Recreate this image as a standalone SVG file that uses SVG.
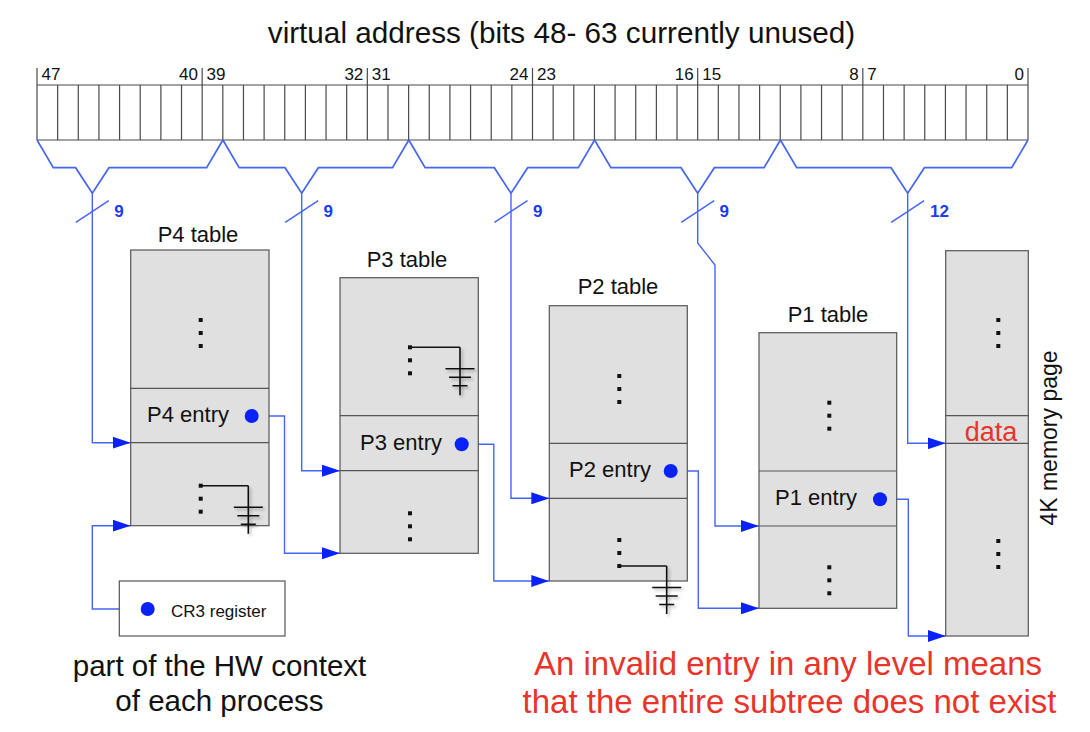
<svg xmlns="http://www.w3.org/2000/svg" xmlns:xlink="http://www.w3.org/1999/xlink" width="1090" height="732" viewBox="0 0 1090 732">
  <style>
    text { font-family: "Liberation Sans", Arial, sans-serif; fill: #111; }
    .title { font-size: 29.7px; text-anchor: middle; }
    .bitnum { font-size: 17px; }
    .bitnum.r { text-anchor: end; }
    .tbl { fill: #e0e0e0; stroke: #555; stroke-width: 1.2; }
    .row { fill: none; stroke: #555; stroke-width: 1.2; }
    .lbl { font-size: 22px; text-anchor: middle; }
    .cells { fill: none; stroke: #4a4a4a; stroke-width: 1.2; }
    .brace { fill: none; stroke: #4566f2; stroke-width: 1.7; stroke-linejoin: miter; }
    .wire { fill: none; stroke: #4566f2; stroke-width: 1.5; }
    .arr { fill: none; stroke: #4566f2; stroke-width: 1.4; marker-end: url(#head); }
    .width { font-size: 17px; font-weight: bold; fill: #1a3cf5; }
    .dot { fill: #0a22f5; }
    .gwire { fill: none; stroke: #111; stroke-width: 1.6; }
    .red { fill: #e8342a; }
    .note { font-size: 29.5px; text-anchor: middle; }
    .warn { font-size: 33px; text-anchor: middle; }
  </style>
  <defs>
    <marker id="head" markerUnits="userSpaceOnUse" markerWidth="18" markerHeight="12" refX="18" refY="6" orient="auto">
      <path d="M0,0 L18,6 L0,12 z" fill="#0a22f5"/>
    </marker>
    <g id="vdots" fill="#111">
      <rect x="-2" y="-2" width="4" height="4"/>
      <rect x="-2" y="11" width="4" height="4"/>
      <rect x="-2" y="24" width="4" height="4"/>
    </g>
    <filter id="soft" x="-50%" y="-50%" width="200%" height="200%">
      <feDropShadow dx="2" dy="2" stdDeviation="1.5" flood-color="#000" flood-opacity="0.3"/>
    </filter>
    <!-- null pointer: ground symbol hanging from the corner point -->
    <g id="gnd" filter="url(#soft)">
      <path d="M0,0 V48 M-14.5,21.5 H14.5 M-11,30 H11 M-7.5,38.5 H7.5" fill="none" stroke="#111" stroke-width="1.6"/>
    </g>
  </defs>

  <rect width="1090" height="732" fill="#fff"/>

  <!-- 48-bit virtual address register -->
  <g id="virtual-address">
    <text class="title" x="561.5" y="43">virtual address (bits 48- 63 currently unused)</text>
    <path class="cells" d="M37,85 H1028 M37,140 H1028
      M37,68 V140 M57.65,85 V140 M78.29,85 V140 M98.94,85 V140 M119.58,85 V140 M140.23,85 V140 M160.88,85 V140 M181.52,85 V140
      M202.17,68 V140 M222.81,85 V140 M243.46,85 V140 M264.1,85 V140 M284.75,85 V140 M305.4,85 V140 M326.04,85 V140 M346.69,85 V140
      M367.33,68 V140 M387.98,85 V140 M408.63,85 V140 M429.27,85 V140 M449.92,85 V140 M470.56,85 V140 M491.21,85 V140 M511.85,85 V140
      M532.5,68 V140 M553.15,85 V140 M573.79,85 V140 M594.44,85 V140 M615.08,85 V140 M635.73,85 V140 M656.38,85 V140 M677.02,85 V140
      M697.67,68 V140 M718.31,85 V140 M738.96,85 V140 M759.6,85 V140 M780.25,85 V140 M800.9,85 V140 M821.54,85 V140 M842.19,85 V140
      M862.83,68 V140 M883.48,85 V140 M904.13,85 V140 M924.77,85 V140 M945.42,85 V140 M966.06,85 V140 M986.71,85 V140 M1007.35,85 V140
      M1028,68 V140"/>
    <text class="bitnum" x="41.5" y="80">47</text>
    <text class="bitnum r" x="198" y="80">40</text>
    <text class="bitnum" x="206.5" y="80">39</text>
    <text class="bitnum r" x="363.3" y="80">32</text>
    <text class="bitnum" x="371.8" y="80">31</text>
    <text class="bitnum r" x="528.5" y="80">24</text>
    <text class="bitnum" x="537" y="80">23</text>
    <text class="bitnum r" x="693.7" y="80">16</text>
    <text class="bitnum" x="702.2" y="80">15</text>
    <text class="bitnum r" x="858.8" y="80">8</text>
    <text class="bitnum" x="867.3" y="80">7</text>
    <text class="bitnum r" x="1024" y="80">0</text>
  </g>

  <!-- bit-field braces, bus widths and index lines -->
  <g id="connectors">
    <path class="brace" d="M37,140 L53.3,167.7 H75.6 L92.3,193.3 L109,167.7 H206.6 L222.9,140"/>
    <path class="brace" d="M222.9,140 L239.2,167.7 H285 L301.7,193.3 L318.4,167.7 H392.5 L408.8,140"/>
    <path class="brace" d="M408.8,140 L425.1,167.7 H494.3 L511,193.3 L527.7,167.7 H578.3 L594.6,140"/>
    <path class="brace" d="M594.6,140 L610.9,167.7 H681 L697.7,193.3 L714.4,167.7 H764.1 L780.4,140"/>
    <path class="brace" d="M780.4,140 L796.7,167.7 H891 L907.7,193.3 L924.4,167.7 H1011.7 L1028,140"/>

    <path class="wire" d="M75.8,222.3 L108.8,200.7 M285.2,222.3 L318.2,200.7 M494.5,222.3 L527.5,200.7 M681.2,222.3 L714.2,200.7 M891.2,222.3 L924.2,200.7"/>
    <text class="width" x="114.3" y="217.3">9</text>
    <text class="width" x="323.5" y="217.3">9</text>
    <text class="width" x="533" y="217.3">9</text>
    <text class="width" x="719.5" y="217.3">9</text>
    <text class="width" x="930" y="217.3">12</text>

    <!-- table indices -->
    <path class="arr" d="M92.3,193.3 V442.7 H130.7"/>
    <path class="arr" d="M301.7,193.3 V470.7 H340"/>
    <path class="arr" d="M511,193.3 V498.3 H549.3"/>
    <path class="arr" d="M697.7,193.3 V243 L715,265 V526 H759"/>
    <path class="arr" d="M907.7,193.3 V443.3 H945.7"/>

    <!-- base pointers -->
    <path class="arr" d="M147.7,609 H92.3 V525.7 H130.7"/>
    <path class="arr" d="M251.7,416 H284.5 V553.3 H340"/>
    <path class="arr" d="M461.7,444.3 H493.8 V581 H549.3"/>
    <path class="arr" d="M670.7,471 H698.3 V608.3 H759"/>
    <path class="arr" d="M880,499.3 H908.3 V636 H945.7"/>
  </g>

  <!-- level 4 -->
  <g id="p4-table">
    <text class="lbl" x="198" y="242">P4 table</text>
    <rect class="tbl" x="130.7" y="250" width="138.3" height="275.7"/>
    <path class="row" d="M130.7,388.3 H269 M130.7,442.7 H269"/>
    <text class="lbl" x="188" y="422">P4 entry</text>
    <circle class="dot" cx="251.7" cy="416" r="7"/>
    <use href="#vdots" x="200.7" y="320"/>
    <use href="#vdots" x="200.7" y="485.7"/>
    <path class="gwire" d="M200.7,485.7 H248.3"/>
    <use href="#gnd" x="248.3" y="485.7"/>
  </g>

  <!-- level 3 -->
  <g id="p3-table">
    <text class="lbl" x="407" y="267">P3 table</text>
    <rect class="tbl" x="340" y="277.7" width="138.3" height="275.6"/>
    <path class="row" d="M340,415.7 H478.3 M340,470.7 H478.3"/>
    <text class="lbl" x="401" y="450">P3 entry</text>
    <circle class="dot" cx="461.7" cy="444.3" r="7"/>
    <use href="#vdots" x="410" y="347.3"/>
    <use href="#vdots" x="410" y="513.3"/>
    <path class="gwire" d="M410,347.3 H460"/>
    <use href="#gnd" x="460" y="347.3"/>
  </g>

  <!-- level 2 -->
  <g id="p2-table">
    <text class="lbl" x="618" y="294">P2 table</text>
    <rect class="tbl" x="549.3" y="305.7" width="138" height="275.3"/>
    <path class="row" d="M549.3,443.3 H687.3 M549.3,498.3 H687.3"/>
    <text class="lbl" x="610" y="477">P2 entry</text>
    <circle class="dot" cx="670.7" cy="471" r="7"/>
    <use href="#vdots" x="619.3" y="376"/>
    <use href="#vdots" x="619.3" y="540"/>
    <path class="gwire" d="M619.3,566 H666.7"/>
    <use href="#gnd" x="666.7" y="566"/>
  </g>

  <!-- level 1 -->
  <g id="p1-table">
    <text class="lbl" x="828" y="322">P1 table</text>
    <rect class="tbl" x="759" y="332.7" width="137.7" height="275.6"/>
    <path class="row" d="M759,471 H896.7 M759,526 H896.7"/>
    <text class="lbl" x="816" y="505">P1 entry</text>
    <circle class="dot" cx="880" cy="499.3" r="7"/>
    <use href="#vdots" x="829.3" y="402.7"/>
    <use href="#vdots" x="829.3" y="567.3"/>
  </g>

  <!-- physical page -->
  <g id="memory-page">
    <rect class="tbl" x="945.7" y="250.7" width="82.6" height="385.3"/>
    <path class="row" d="M945.7,415.7 H1028.3 M945.7,443.3 H1028.3"/>
    <text class="red" x="991" y="441" font-size="27" text-anchor="middle">data</text>
    <use href="#vdots" x="998.3" y="320"/>
    <use href="#vdots" x="998.3" y="541"/>
    <text transform="translate(1057,438) rotate(-90)" font-size="23" text-anchor="middle">4K memory page</text>
  </g>

  <!-- page-table base register -->
  <g id="cr3-register">
    <rect x="119.3" y="581" width="165.7" height="55" fill="#fff" stroke="#555" stroke-width="1.2"/>
    <circle class="dot" cx="147.7" cy="609" r="7"/>
    <text x="171" y="617" font-size="17">CR3 register</text>
  </g>

  <g id="notes">
    <text class="note" x="219.5" y="676">part of the HW context</text>
    <text class="note" x="219.5" y="711">of each process</text>
    <text class="warn red" x="788" y="675">An invalid entry in any level means</text>
    <text class="warn red" x="789.5" y="713">that the entire subtree does not exist</text>
  </g>
</svg>
